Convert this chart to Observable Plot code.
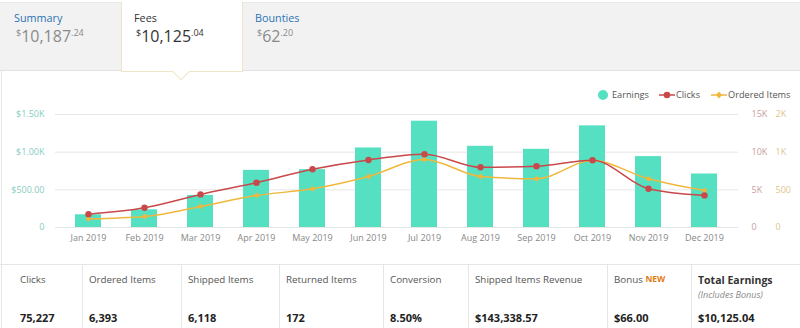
<!DOCTYPE html>
<html>
<head>
<meta charset="utf-8">
<script src="https://cdn.jsdelivr.net/npm/d3@7"></script>
<script src="https://cdn.jsdelivr.net/npm/@observablehq/plot@0.6"></script>
<style>
  html, body { margin:0; padding:0; }
  body { width:800px; height:328px; position:relative; overflow:hidden; background:#fff; font-family:"Open Sans", sans-serif; }
  .abs { position:absolute; white-space:nowrap; }
  .strip { left:0; top:2px; width:800px; height:67px; background:#f2f2f2; border-top:1px solid #e9e9e9; border-bottom:1px solid #e2e2e2; }
  .tab { left:121px; top:2px; width:120px; height:69px; background:#fff; border:1px solid #efe5c6; border-top:none; }
  .ptr { left:175px; top:66px; width:11px; height:11px; background:#fff; border-right:1px solid #efe5c6; border-bottom:1px solid #efe5c6; transform:rotate(45deg); }
  .tname { font-size:10.8px; }
  .amt { font-size:16px; }
  .amt .s { font-size:9px; vertical-align:top; position:relative; top:1px; }
  .leg { font-size:9.2px; color:#555; top:89px; line-height:12px; }
  .lbl { font-size:9.8px; color:#555; top:273px; }
  .val { font-size:11px; font-weight:bold; color:#222; top:310px; }
  .div { top:264px; width:1px; height:64px; background:#e6e6e6; }
</style>
</head>
<body>
<div class="abs strip"></div>
<div class="abs tab"></div>
<div class="abs ptr"></div>
<div id="tabs"></div>
<div class="abs" style="left:1px;top:70px;width:1px;height:258px;background:#e6e6e6"></div>
<div class="abs" style="left:0;top:264px;width:800px;height:1px;background:#e6e6e6"></div>
<div id="chart" class="abs" style="left:0;top:80px;"></div>
<div id="legend"></div>
<div id="stats"></div>
<script>
// ---- data ----
const months = ["Jan 2019","Feb 2019","Mar 2019","Apr 2019","May 2019","Jun 2019","Jul 2019","Aug 2019","Sep 2019","Oct 2019","Nov 2019","Dec 2019"];
const earnings = [169, 235, 426, 759, 768, 1056, 1411, 1078, 1038, 1349, 941, 710];
const clicks = [1775, 2619, 4394, 5947, 7723, 8965, 9720, 7989, 8122, 8921, 5148, 4261];
const orders = [115, 146, 279, 425, 513, 677, 903, 677, 646, 889, 646, 491];

const yTicks = [0, 500, 1000, 1500];
const earningsTickLabels = ["0", "$500.00", "$1.00K", "$1.50K"];
const clicksTickLabels = ["0", "5K", "10K", "15K"];
const ordersTickLabels = ["0", "500", "1K", "2K"];
const clicksPerUnit = 10; // clicks axis 0–15K shares the 0–1500 scale

const tabNames = ["Summary", "Fees", "Bounties"];
const tabWhole = ["10,187", "10,125", "62"];
const tabCents = [".24", ".04", ".20"];

const statLabels = ["Clicks", "Ordered Items", "Shipped Items", "Returned Items", "Conversion", "Shipped Items Revenue", "Bonus", "Total Earnings"];
const statValues = ["75,227", "6,393", "6,118", "172", "8.50%", "$143,338.57", "$66.00", "$10,125.04"];

// ---- tabs ----
const tabX = [14, 134, 255];
const tabsEl = document.getElementById("tabs");
tabNames.forEach((n, i) => {
  const active = i === 1;
  const name = document.createElement("div");
  name.className = "abs tname";
  name.style.cssText = `left:${tabX[i]}px;top:10px;color:${active ? "#333" : "#2b72b5"}`;
  name.textContent = n;
  tabsEl.appendChild(name);
  const amt = document.createElement("div");
  amt.className = "abs amt";
  amt.style.cssText = `left:${tabX[i] + 2}px;top:25px;color:${active ? "#333" : "#8a8a8a"}`;
  amt.innerHTML = `<span class="s">$</span>${tabWhole[i]}<span class="s">${tabCents[i]}</span>`;
  tabsEl.appendChild(amt);
});

// ---- chart ----
const data = months.map((m, i) => ({month: m, earnings: earnings[i], clicks: clicks[i], orders: orders[i]}));
const cBar = "#55e0c2", cClicks = "#c9484a", cOrders = "#f1b73c";

const chart = Plot.plot({
  width: 800, height: 184,
  marginTop: 34, marginBottom: 37, marginLeft: 55, marginRight: 62,
  style: {fontFamily: "Open Sans", fontSize: "9px", background: "transparent", overflow: "visible"},
  x: {type: "band", domain: months, paddingInner: 0.53, paddingOuter: 0.265},
  y: {domain: [0, 1500]},
  marks: [
    Plot.gridY(yTicks, {stroke: "#e6e6e6", strokeOpacity: 1}),
    Plot.barY(data, {x: "month", y: "earnings", fill: cBar}),
    Plot.line(data, {x: "month", y: "orders", stroke: cOrders, strokeWidth: 1.5, curve: "monotone-x"}),
    Plot.dot(data, {x: "month", y: "orders", symbol: "diamond2", r: 2.6, fill: cOrders}),
    Plot.line(data, {x: "month", y: d => d.clicks / clicksPerUnit, stroke: cClicks, strokeWidth: 1.5, curve: "monotone-x"}),
    Plot.dot(data, {x: "month", y: d => d.clicks / clicksPerUnit, r: 3.2, fill: cClicks}),
    Plot.axisY(yTicks, {anchor: "left", tickSize: 0, tickPadding: 11, label: null, fill: "#86cdbf",
      tickFormat: d => earningsTickLabels[yTicks.indexOf(d)]}),
    Plot.text(yTicks, {y: d => d, text: d => clicksTickLabels[yTicks.indexOf(d)], frameAnchor: "right", textAnchor: "start", dx: 13, fill: "#c9a09c"}),
    Plot.text(yTicks, {y: d => d, text: d => ordersTickLabels[yTicks.indexOf(d)], frameAnchor: "right", textAnchor: "start", dx: 37, fill: "#e0c48e"}),
    Plot.axisX({tickSize: 0, tickPadding: 7, label: null, fill: "#888"})
  ]
});
document.getElementById("chart").appendChild(chart);

// ---- legend ----
const legendEl = document.getElementById("legend");
const legendItems = [
  {name: "Earnings", mx: 598, tx: 612, svg: `<svg width="10" height="10"><circle cx="5" cy="5" r="5" fill="${cBar}"/></svg>`},
  {name: "Clicks", mx: 659, tx: 676, svg: `<svg width="16" height="10"><line x1="0" y1="5" x2="16" y2="5" stroke="${cClicks}" stroke-width="1.5"/><circle cx="8" cy="5" r="3.3" fill="${cClicks}"/></svg>`},
  {name: "Ordered Items", mx: 711, tx: 728, svg: `<svg width="16" height="10"><line x1="0" y1="5" x2="16" y2="5" stroke="${cOrders}" stroke-width="1.5"/><path d="M8 1.5L11 5L8 8.5L5 5Z" fill="${cOrders}"/></svg>`}
];
legendItems.forEach(it => {
  const m = document.createElement("div");
  m.className = "abs";
  m.style.cssText = `left:${it.mx}px;top:90px;line-height:0`;
  m.innerHTML = it.svg;
  legendEl.appendChild(m);
  const t = document.createElement("div");
  t.className = "abs leg";
  t.style.left = it.tx + "px";
  t.textContent = it.name;
  legendEl.appendChild(t);
});

// ---- stats ----
const cellLeft = [0, 82, 181, 279, 383, 468, 607, 691];
const statsEl = document.getElementById("stats");
statLabels.forEach((l, i) => {
  const x = i === 0 ? 20 : cellLeft[i] + 7;
  if (i > 0) {
    const d = document.createElement("div");
    d.className = "abs div";
    d.style.left = cellLeft[i] + "px";
    statsEl.appendChild(d);
  }
  const lab = document.createElement("div");
  lab.className = "abs lbl";
  lab.style.left = x + "px";
  if (l === "Bonus") {
    lab.innerHTML = `Bonus <span style="color:#e07b14;font-weight:bold;font-size:8.5px;vertical-align:top">NEW</span>`;
  } else if (l === "Total Earnings") {
    lab.innerHTML = `<span style="font-weight:bold;color:#333;font-size:10.5px">Total Earnings</span><div style="font-style:italic;color:#888;font-size:9px;margin-top:1px">(Includes Bonus)</div>`;
  } else {
    lab.textContent = l;
  }
  statsEl.appendChild(lab);
  const v = document.createElement("div");
  v.className = "abs val";
  v.style.left = x + "px";
  v.textContent = statValues[i];
  statsEl.appendChild(v);
});
</script>
</body>
</html>
